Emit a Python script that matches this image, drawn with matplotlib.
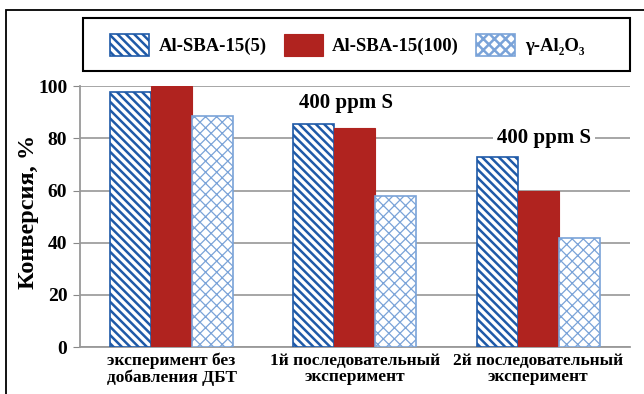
import matplotlib
matplotlib.use("Agg")
import matplotlib.pyplot as plt
from matplotlib.patches import Rectangle
import numpy as np

plt.rcParams['font.family'] = ['Liberation Serif', 'DejaVu Serif']
plt.rcParams['font.weight'] = 'bold'
plt.rcParams['hatch.linewidth'] = 1.8

categories = ["эксперимент без\nдобавления ДБТ",
              "1й последовательный\nэксперимент",
              "2й последовательный\nэксперимент"]
series_names = ["Al-SBA-15(5)", "Al-SBA-15(100)", "γ-Al₂O₃"]
al_sba_5 = [98, 85.5, 73]
al_sba_100 = [100, 84, 60]
gamma_al2o3 = [88.5, 58, 42]
yticks = [0, 20, 40, 60, 80, 100]
note = "400 ppm S"

dark_blue = "#1f5aa8"
light_blue = "#7aa3d8"
red = "#b0231f"

fig = plt.figure(figsize=(6.44, 3.94), dpi=100)
ax = fig.add_axes([0.124, 0.119, 0.854, 0.662])

x = np.arange(len(categories))
w = 0.224
b1 = ax.bar(x - w, al_sba_5, w, color="white", edgecolor=dark_blue,
            hatch="\\\\\\\\", linewidth=1.2, label=series_names[0], zorder=3)
b2 = ax.bar(x, al_sba_100, w, color=red, edgecolor=red,
            linewidth=0.8, label=series_names[1], zorder=3)
b3 = ax.bar(x + w, gamma_al2o3, w, color="white", edgecolor=light_blue,
            hatch="xxx", linewidth=1.2, label=series_names[2], zorder=3)
for p in b3:
    if hasattr(p, "set_hatch_linewidth"):
        p.set_hatch_linewidth(0.9)

ax.set_xlim(-0.5, 2.5)
ax.set_ylim(0, 100)
ax.set_yticks(yticks)
ax.set_xticks(x)
ax.set_xticklabels(categories, fontsize=12.5, fontweight='bold', linespacing=1.0)
ax.tick_params(axis='x', length=0, pad=4)
ax.tick_params(axis='y', labelsize=14, length=5, color="#888888", pad=4)
ax.yaxis.grid(True, color="#a6a6a6", linewidth=1.4, zorder=0)
ax.set_axisbelow(True)
for s in ["top", "right"]:
    ax.spines[s].set_visible(False)
for s in ["left", "bottom"]:
    ax.spines[s].set_color("#999999")
    ax.spines[s].set_linewidth(1.3)
ax.set_ylabel("Конверсия, %", fontsize=17.5, fontweight='bold')
ax.yaxis.set_label_coords(-0.075, 0.52)

ax.text(0.95, 93.5, note, ha='center', va='center', fontsize=15, fontweight='bold')
ax.text(2.03, 80, note, ha='center', va='center', fontsize=15, fontweight='bold',
        bbox=dict(facecolor='white', edgecolor='none', pad=3), zorder=4)

# outer frame and legend box
fig.patches.append(Rectangle((6 / 644, -0.1), 1.2, 1 - 10 / 394 + 0.1,
                             transform=fig.transFigure, fill=False,
                             edgecolor='black', linewidth=1.3))
fig.patches.append(Rectangle((83 / 644, 1 - 71 / 394), (630 - 83) / 644, 53 / 394,
                             transform=fig.transFigure, fill=False,
                             edgecolor='black', linewidth=1.5))
leg = fig.legend(handles=[b1, b2, b3], loc='center',
                 bbox_to_anchor=(347 / 644, 1 - 45 / 394), ncol=3, frameon=False,
                 prop={'size': 13.5, 'weight': 'bold'}, handlelength=2.1,
                 handleheight=1.5, handletextpad=0.5, columnspacing=0.9)

fig.savefig("out.png", dpi=100)
